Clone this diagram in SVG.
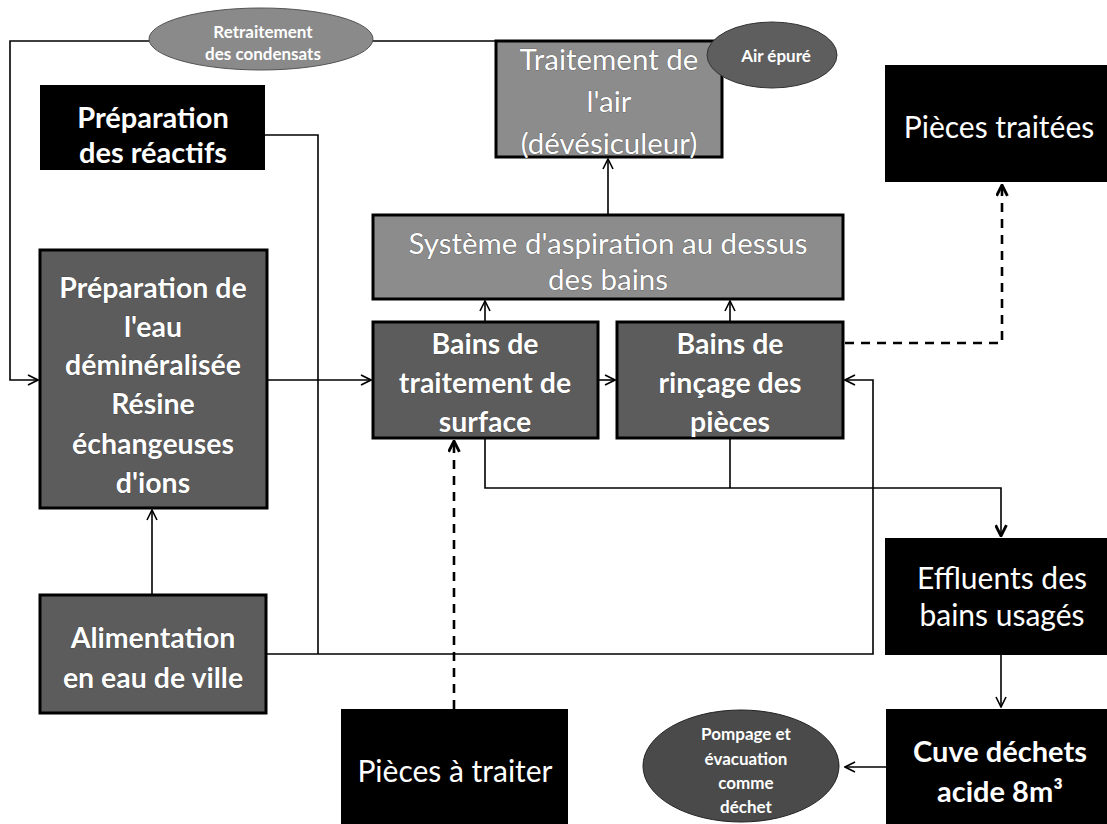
<svg xmlns="http://www.w3.org/2000/svg" width="1107" height="824" viewBox="0 0 1107 824">
<style>
.bg{fill:#ffffff}
.blk{fill:#000000}
.dk{fill:#5c5c5c;stroke:#000;stroke-width:3}
.lt{fill:#8c8c8c;stroke:#000;stroke-width:3}
.ell1{fill:#8a8a8a;stroke:#555;stroke-width:1}
.ell2{fill:#5e5e5e;stroke:#333;stroke-width:1}
.ell3{fill:#4a4a4a;stroke:#222;stroke-width:1}
text{font-family:Lato,"Liberation Sans",sans-serif;fill:#ffffff;text-anchor:middle;dominant-baseline:central}
.t26b{font-size:29px;font-weight:bold}
.t26{font-size:30px}
.g{font-size:28.5px;font-weight:bold;stroke:#333;stroke-width:0.6;paint-order:stroke}
.gl{font-size:29.5px;stroke:#444;stroke-width:0.6;paint-order:stroke}
.s{font-size:17px;font-weight:bold}
.p{font-size:17px;font-weight:bold}
.ln{fill:none;stroke:#000;stroke-width:1.6}
.ds{fill:none;stroke:#000;stroke-width:2.6;stroke-dasharray:9 7}
</style>
<defs>
<marker id="a" viewBox="0 0 12 12" refX="11" refY="6" markerWidth="12" markerHeight="12" markerUnits="userSpaceOnUse" orient="auto">
<path d="M1,1 L11,6 L1,11" fill="none" stroke="#000" stroke-width="1.6"/>
</marker>
<marker id="b" viewBox="0 0 12 12" refX="11" refY="6" markerWidth="13" markerHeight="13" markerUnits="userSpaceOnUse" orient="auto">
<path d="M1,1 L11,6 L1,11" fill="none" stroke="#000" stroke-width="2.6"/>
</marker>
</defs>
<rect class="bg" x="0" y="0" width="1107" height="824"/>

<g id="connectors">
<polyline class="ln" points="496,41 10,41 10,380 38,380" marker-end="url(#a)"/>
<polyline class="ln" points="265,135 318,135 318,654"/>
<polyline class="ln" points="266,654 873,654 873,380 845,380" marker-end="url(#a)"/>
<line class="ln" x1="152" y1="595" x2="152" y2="510" marker-end="url(#a)"/>
<line class="ln" x1="267" y1="380" x2="371" y2="380" marker-end="url(#a)"/>
<line class="ln" x1="598" y1="380" x2="615" y2="380" marker-end="url(#a)"/>
<line class="ln" x1="485" y1="322" x2="485" y2="301" marker-end="url(#a)"/>
<line class="ln" x1="730" y1="322" x2="730" y2="301" marker-end="url(#a)"/>
<line class="ln" x1="608" y1="215" x2="608" y2="159" marker-end="url(#a)"/>
<polyline class="ln" points="485,438 485,488 1001,488 1001,536" marker-end="url(#b)"/>
<line class="ln" x1="730" y1="438" x2="730" y2="488"/>
<line class="ln" x1="1001" y1="655" x2="1001" y2="707" marker-end="url(#a)"/>
<line class="ln" x1="886" y1="767" x2="845" y2="767" marker-end="url(#a)"/>
<line class="ds" x1="454" y1="709" x2="454" y2="441" marker-end="url(#b)"/>
<polyline class="ds" points="845,343 1002,343 1002,185" marker-end="url(#b)"/>
</g>

<g id="retraitement">
<ellipse class="ell1" cx="261" cy="39" rx="112" ry="31"/>
<text class="s" x="263" y="31">Retraitement</text>
<text class="s" x="263" y="53">des condensats</text>
</g>

<g id="traitement-air">
<rect class="lt" x="496" y="41" width="226" height="116"/>
<text class="gl" x="609" y="58">Traitement de</text>
<text class="gl" x="609" y="100">l'air</text>
<text class="gl" x="609" y="142">(dévésiculeur)</text>
</g>

<g id="air-epure">
<ellipse class="ell2" cx="772" cy="55" rx="65" ry="33"/>
<text class="s" x="776" y="55">Air épuré</text>
</g>

<g id="preparation-reactifs">
<rect class="blk" x="40" y="85" width="225" height="85"/>
<text class="t26b" x="153" y="116">Préparation</text>
<text class="t26b" x="153" y="151">des réactifs</text>
</g>

<g id="pieces-traitees">
<rect class="blk" x="885" y="65" width="222" height="117"/>
<text class="t26" x="999" y="126">Pièces traitées</text>
</g>

<g id="systeme-aspiration">
<rect class="lt" x="373" y="215" width="470" height="84"/>
<text class="gl" x="608" y="242">Système d'aspiration au dessus</text>
<text class="gl" x="608" y="278">des bains</text>
</g>

<g id="preparation-eau">
<rect class="dk" x="40" y="250" width="227" height="258"/>
<text class="g" x="153" y="287">Préparation de</text>
<text class="g" x="153" y="326">l'eau</text>
<text class="g" x="153" y="364">déminéralisée</text>
<text class="g" x="153" y="403">Résine</text>
<text class="g" x="153" y="443">échangeuses</text>
<text class="g" x="153" y="482">d'ions</text>
</g>

<g id="bains-traitement">
<rect class="dk" x="373" y="322" width="225" height="116"/>
<text class="g" x="485" y="343">Bains de</text>
<text class="g" x="485" y="382">traitement de</text>
<text class="g" x="485" y="421">surface</text>
</g>

<g id="bains-rincage">
<rect class="dk" x="617" y="322" width="226" height="116"/>
<text class="g" x="730" y="343">Bains de</text>
<text class="g" x="730" y="382">rinçage des</text>
<text class="g" x="730" y="421">pièces</text>
</g>

<g id="effluents">
<rect class="blk" x="885" y="538" width="222" height="117"/>
<text class="t26" x="1002" y="577">Effluents des</text>
<text class="t26" x="1002" y="614">bains usagés</text>
</g>

<g id="alimentation">
<rect class="dk" x="40" y="595" width="226" height="118"/>
<text class="g" x="153" y="637">Alimentation</text>
<text class="g" x="153" y="677">en eau de ville</text>
</g>

<g id="pieces-a-traiter">
<rect class="blk" x="341" y="709" width="227" height="115"/>
<text class="t26" x="455" y="770">Pièces à traiter</text>
</g>

<g id="cuve">
<rect class="blk" x="886" y="709" width="221" height="115"/>
<text class="t26b" x="1000" y="750">Cuve déchets</text>
<text class="t26b" x="1000" y="790">acide 8m³</text>
</g>

<g id="pompage">
<ellipse class="ell3" cx="741" cy="766" rx="98" ry="56"/>
<text class="p" x="746" y="733">Pompage et</text>
<text class="p" x="746" y="758">évacuation</text>
<text class="p" x="746" y="782">comme</text>
<text class="p" x="746" y="806">déchet</text>
</g>
</svg>
